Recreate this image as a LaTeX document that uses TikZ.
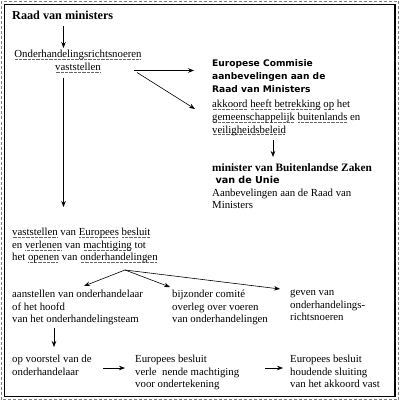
\documentclass[tikz,border=0pt]{standalone}
\usepackage{fontspec}
\setmainfont{Liberation Serif}
\newfontfamily\ecsans{DejaVu Sans}
\usetikzlibrary{arrows.meta, positioning, calc}

% gestippelde onderstreping (spellingcontrole)
\newcommand{\spl}[1]{\setbox0\hbox{#1}\rlap{\color{black!60}\hbox to\wd0{\leaders\hbox to 1.3pt{\hss\vrule height -1.3pt depth 2.1pt width 0.6pt\hss}\hfill}}\box0\relax}

\begin{document}
\begin{tikzpicture}[x=1pt, y=-1pt, >={Stealth[length=6pt,width=4.5pt]},
    txt/.style={inner sep=0pt, anchor=north west, align=left,
      font=\fontsize{10.8}{12.6}\selectfont},
    pijl/.style={->, line width=0.6pt}]
      \useasboundingbox (0,0) rectangle (400,401);
      % kader
      \draw[gray, densely dashed, line width=0.7pt] (1.5,1.5) rectangle (398.5,399.5);
      \draw[line width=0.8pt] (4,4) rectangle (395,396.5);
      \draw[line width=1.2pt] (395,4) -- (395,396.5) -- (4,396.5);

      \node[txt, font=\fontsize{12.2}{14}\selectfont\bfseries] (raad) at (12,11) {Raad van ministers};

      \node[txt, anchor=north, align=center] (onder) at (78,50)
      {\spl{Onderhandelingsrichtsnoeren}\\\spl{vaststellen}};

      \node[txt, font=\fontsize{9.1}{13.2}\selectfont\ecsans\bfseries] (ec) at (212,59)
      {Europese Commisie\\aanbevelingen aan de\\Raad van Ministers};

      \node[txt] (akk) at (212,100)
      {\spl{akkoord} \spl{heeft} \spl{betrekking} \spl{op} het\\
        \spl{gemeenschappelijk} \spl{buitenlands} en\\\spl{veiligheidsbeleid}};

      \node[txt] (min) at (212,163)
      {{\bfseries\fontsize{11.3}{12.6}\selectfont minister van Buitenlandse Zaken}\\
        {\ecsans\bfseries\fontsize{9.6}{12.6}\selectfont\ van de Unie}\\
        Aanbevelingen aan de Raad van\\Ministers};

      \node[txt] (vast) at (12,228)
      {\spl{vaststellen} van \spl{Europees} \spl{besluit}\\
        en \spl{verlenen} van \spl{machtiging} tot\\
        het \spl{openen} van \spl{onderhandelingen}};

      \node[txt] (aan) at (12,290)
      {aanstellen van onderhandelaar\\of het hoofd\\van het onderhandelingsteam};
      \node[txt] (com) at (172,290)
      {bijzonder comit\'e\\overleg over voeren\\van onderhandelingen};
      \node[txt] (gev) at (290,290)
      {geven van\\onderhandelings-\\richtsnoeren};

      \node[txt] (voor) at (12,355)
      {op voorstel van de\\onderhandelaar};
      \node[txt] (eb) at (135,355)
      {Europees besluit\\verle\ \ nende machtiging\\voor ondertekening};
      \node[txt] (sl) at (290,355)
      {Europees besluit\\houdende sluiting\\van het akkoord vast};

      \coordinate (spine) at (63.5,0);
      \coordinate (fork) at (134,70.5);
      \coordinate (split) at (125,270);

      \draw[pijl] (raad.south -| spine) ++(0,6) -- ($(onder.north -| spine)+(0,-2)$);
      \draw[pijl] (onder.south -| spine) ++(0,5) -- ($(vast.north -| spine)+(0,-21)$);

      \draw[pijl] (fork) -- ($(fork -| ec.west)+(-18,0)$);
      \draw[pijl] ($(fork)+(3,2)$) -- ($(akk.north west)+(-17,9)$);
      \draw[pijl] ($(akk.south west)+(61,4)$) -- ($(min.north west)+(61,-6)$);

      \draw[pijl] (split) -- ($(aan.north west)+(72,-4)$);
      \draw[pijl] (split) -- ($(com.north west)+(-2,-3)$);
      \draw[pijl] (split) -- ($(gev.north west)+(-10,-1)$);

      \draw[pijl] ($(aan.south west)+(42,3)$) -- ($(voor.north west)+(42,-8)$);
      \draw[pijl] ($(voor.north east)+(11,13)$) -- ($(eb.north west)+(-10,13)$);
      \draw[pijl] ($(eb.north east)+(26,13)$) -- ($(sl.north west)+(-7,13)$);
\end{tikzpicture}
\end{document}
